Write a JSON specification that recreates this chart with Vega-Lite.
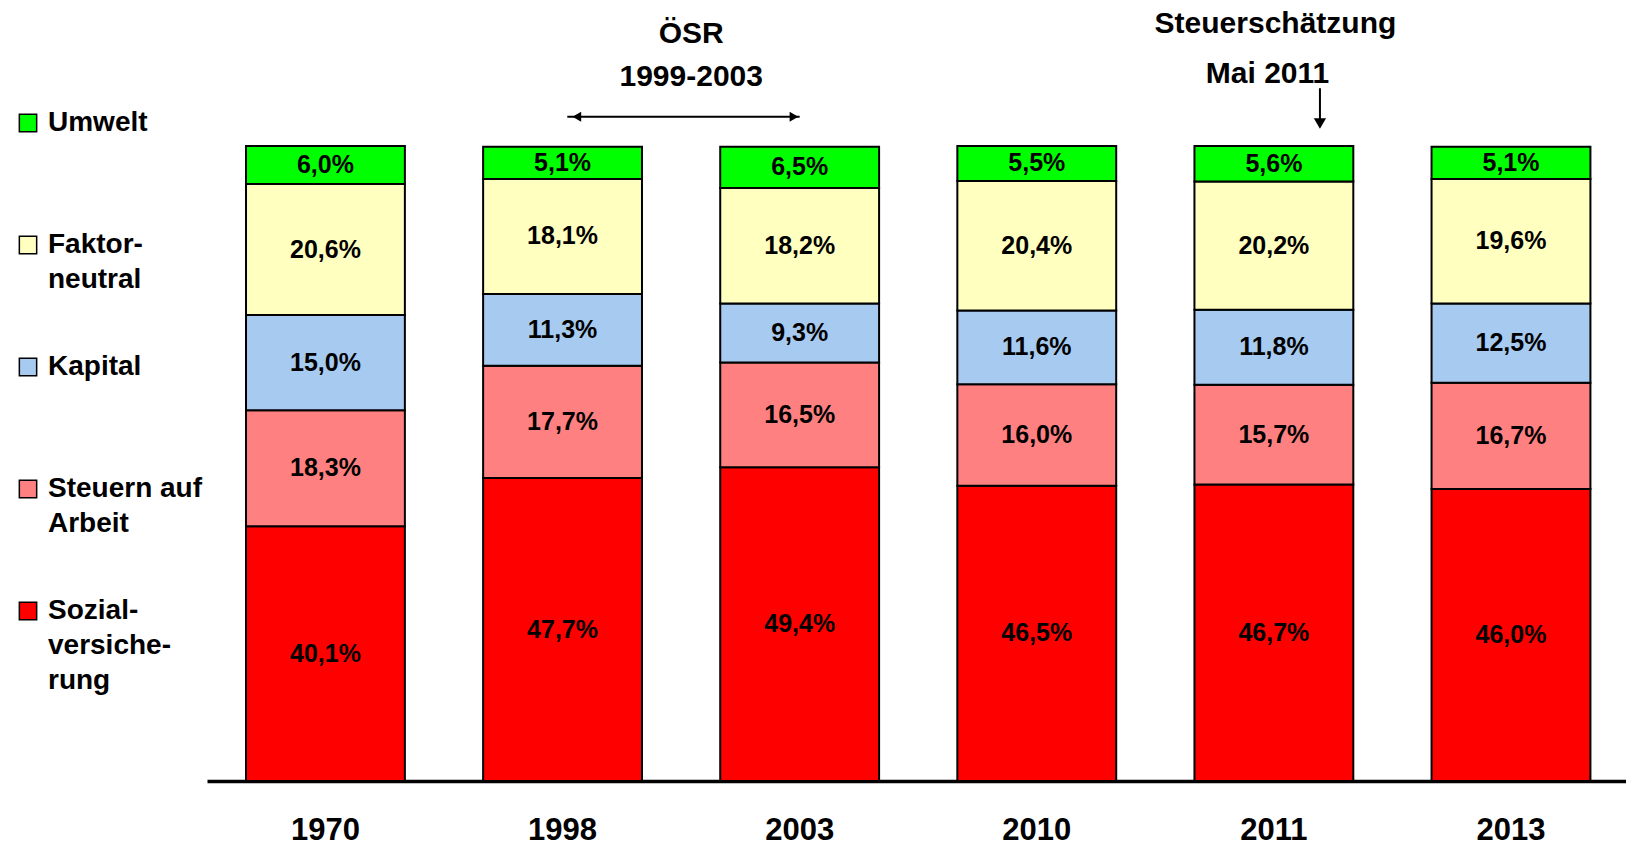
{
  "$schema": "https://vega.github.io/schema/vega-lite/v6.json",
  "width": 1419,
  "height": 635,
  "autosize": {"type": "none"},
  "padding": {"left": 207, "top": 146, "right": 0, "bottom": 64},
  "background": "white",
  "config": {"view": {"stroke": null}, "font": "Liberation Sans"},
  "layer": [
    {
      "data": {
        "values": [
          {"year": "1970", "cat": "Sozialversicherung", "ord": 1, "value": 40.1},
          {"year": "1970", "cat": "Steuern auf Arbeit", "ord": 2, "value": 18.3},
          {"year": "1970", "cat": "Kapital", "ord": 3, "value": 15.0},
          {"year": "1970", "cat": "Faktorneutral", "ord": 4, "value": 20.6},
          {"year": "1970", "cat": "Umwelt", "ord": 5, "value": 6.0},
          {"year": "1998", "cat": "Sozialversicherung", "ord": 1, "value": 47.7},
          {"year": "1998", "cat": "Steuern auf Arbeit", "ord": 2, "value": 17.7},
          {"year": "1998", "cat": "Kapital", "ord": 3, "value": 11.3},
          {"year": "1998", "cat": "Faktorneutral", "ord": 4, "value": 18.1},
          {"year": "1998", "cat": "Umwelt", "ord": 5, "value": 5.1},
          {"year": "2003", "cat": "Sozialversicherung", "ord": 1, "value": 49.4},
          {"year": "2003", "cat": "Steuern auf Arbeit", "ord": 2, "value": 16.5},
          {"year": "2003", "cat": "Kapital", "ord": 3, "value": 9.3},
          {"year": "2003", "cat": "Faktorneutral", "ord": 4, "value": 18.2},
          {"year": "2003", "cat": "Umwelt", "ord": 5, "value": 6.5},
          {"year": "2010", "cat": "Sozialversicherung", "ord": 1, "value": 46.5},
          {"year": "2010", "cat": "Steuern auf Arbeit", "ord": 2, "value": 16.0},
          {"year": "2010", "cat": "Kapital", "ord": 3, "value": 11.6},
          {"year": "2010", "cat": "Faktorneutral", "ord": 4, "value": 20.4},
          {"year": "2010", "cat": "Umwelt", "ord": 5, "value": 5.5},
          {"year": "2011", "cat": "Sozialversicherung", "ord": 1, "value": 46.7},
          {"year": "2011", "cat": "Steuern auf Arbeit", "ord": 2, "value": 15.7},
          {"year": "2011", "cat": "Kapital", "ord": 3, "value": 11.8},
          {"year": "2011", "cat": "Faktorneutral", "ord": 4, "value": 20.2},
          {"year": "2011", "cat": "Umwelt", "ord": 5, "value": 5.6},
          {"year": "2013", "cat": "Sozialversicherung", "ord": 1, "value": 46.0},
          {"year": "2013", "cat": "Steuern auf Arbeit", "ord": 2, "value": 16.7},
          {"year": "2013", "cat": "Kapital", "ord": 3, "value": 12.5},
          {"year": "2013", "cat": "Faktorneutral", "ord": 4, "value": 19.6},
          {"year": "2013", "cat": "Umwelt", "ord": 5, "value": 5.1}
        ]
      },
      "transform": [
        {"stack": "value", "groupby": ["year"], "sort": [{"field": "ord", "order": "ascending"}], "as": ["v0", "v1"]},
        {"calculate": "(datum.v0 + datum.v1) / 2", "as": "mid"},
        {"calculate": "replace(format(datum.value, '.1f'), '.', ',') + '%'", "as": "label"}
      ],
      "layer": [
        {
          "mark": {"type": "bar", "stroke": "black", "strokeWidth": 2},
          "encoding": {
            "x": {
              "field": "year", "type": "nominal", "title": null,
              "scale": {"paddingInner": 0.33, "paddingOuter": 0.1573, "align": 0.523},
              "axis": {"labelAngle": 0, "ticks": false, "tickSize": 0, "labelPadding": 34, "labelFontSize": 31, "labelFontWeight": "bold", "labelFont": "Liberation Sans", "labelColor": "black", "domainColor": "black", "domainWidth": 3.5}
            },
            "y": {"field": "v0", "type": "quantitative", "scale": {"domain": [0, 100], "nice": false}, "axis": null},
            "y2": {"field": "v1"},
            "color": {
              "field": "cat", "type": "nominal",
              "scale": {
                "domain": ["Umwelt", "Faktorneutral", "Kapital", "Steuern auf Arbeit", "Sozialversicherung"],
                "range": ["#00FF00", "#FFFFC0", "#A6CAF0", "#FF8080", "#FF0000"]
              },
              "legend": {
                "orient": "none", "legendX": -193, "legendY": -37, "title": null,
                "symbolType": "square", "symbolSize": 300, "symbolStrokeColor": "black", "symbolStrokeWidth": 1.5,
                "labelFontSize": 28, "labelFontWeight": "bold", "labelFont": "Liberation Sans", "labelColor": "black",
                "labelOffset": 6, "labelLimit": 300, "labelBaseline": "middle", "gridAlign": "all", "rowPadding": 24,
                "labelExpr": "datum.label == 'Faktorneutral' ? ['Faktor-', 'neutral'] : datum.label == 'Steuern auf Arbeit' ? ['Steuern auf', 'Arbeit'] : datum.label == 'Sozialversicherung' ? ['Sozial-', 'versiche-', 'rung'] : datum.label",
                "encode": {"labels": {"update": {"lineHeight": {"value": 35}}}}
              }
            },
            "order": {"field": "ord", "type": "quantitative"}
          }
        },
        {
          "mark": {"type": "text", "fontSize": 25, "fontWeight": "bold", "font": "Liberation Sans", "color": "black", "baseline": "middle", "align": "center"},
          "encoding": {
            "x": {"field": "year", "type": "nominal", "title": null},
            "y": {"field": "mid", "type": "quantitative"},
            "text": {"field": "label"}
          }
        }
      ]
    },
    {
      "data": {"values": [{"year": "1998", "y": 116.2, "text": "ÖSR"}, {"year": "1998", "y": 109.45, "text": "1999-2003"}]},
      "mark": {"type": "text", "fontSize": 30, "fontWeight": "bold", "font": "Liberation Sans", "color": "black", "baseline": "alphabetic", "align": "center"},
      "encoding": {
        "x": {"field": "year", "type": "nominal", "title": null, "bandPosition": 1.31},
        "y": {"field": "y", "type": "quantitative"},
        "text": {"field": "text"}
      }
    },
    {
      "data": {"values": [{"year": "2011", "y": 117.8, "text": "Steuerschätzung"}]},
      "mark": {"type": "text", "fontSize": 30, "fontWeight": "bold", "font": "Liberation Sans", "color": "black", "baseline": "alphabetic", "align": "center"},
      "encoding": {
        "x": {"field": "year", "type": "nominal", "title": null, "bandPosition": 0.51},
        "y": {"field": "y", "type": "quantitative"},
        "text": {"field": "text"}
      }
    },
    {
      "data": {"values": [{"year": "2011", "y": 110.0, "text": "Mai 2011"}]},
      "mark": {"type": "text", "fontSize": 30, "fontWeight": "bold", "font": "Liberation Sans", "color": "black", "baseline": "alphabetic", "align": "center"},
      "encoding": {
        "x": {"field": "year", "type": "nominal", "title": null, "bandPosition": 0.46},
        "y": {"field": "y", "type": "quantitative"},
        "text": {"field": "text"}
      }
    },
    {
      "data": {"values": [{"year": "1998", "year2": "2003", "y": 104.6}]},
      "mark": {"type": "rule", "color": "black", "strokeWidth": 2},
      "encoding": {
        "x": {"field": "year", "type": "nominal", "title": null, "bandPosition": 0.53},
        "x2": {"field": "year2"},
        "y": {"field": "y", "type": "quantitative"}
      }
    },
    {
      "data": {"values": [{"year": "1998", "y": 104.6}]},
      "mark": {"type": "point", "shape": "triangle-left", "size": 100, "filled": true, "color": "black", "opacity": 1},
      "encoding": {
        "x": {"field": "year", "type": "nominal", "title": null, "bandPosition": 0.59},
        "y": {"field": "y", "type": "quantitative"}
      }
    },
    {
      "data": {"values": [{"year": "2003", "y": 104.6}]},
      "mark": {"type": "point", "shape": "triangle-right", "size": 100, "filled": true, "color": "black", "opacity": 1},
      "encoding": {
        "x": {"field": "year", "type": "nominal", "title": null, "bandPosition": 0.464},
        "y": {"field": "y", "type": "quantitative"}
      }
    },
    {
      "data": {"values": [{"year": "2011", "y": 109.1, "y2": 104.0}]},
      "mark": {"type": "rule", "color": "black", "strokeWidth": 2},
      "encoding": {
        "x": {"field": "year", "type": "nominal", "title": null, "bandPosition": 0.79},
        "y": {"field": "y", "type": "quantitative"},
        "y2": {"field": "y2"}
      }
    },
    {
      "data": {"values": [{"year": "2011", "y": 103.55}]},
      "mark": {"type": "point", "shape": "triangle-down", "size": 150, "filled": true, "color": "black", "opacity": 1},
      "encoding": {
        "x": {"field": "year", "type": "nominal", "title": null, "bandPosition": 0.79},
        "y": {"field": "y", "type": "quantitative"}
      }
    }
  ]
}
